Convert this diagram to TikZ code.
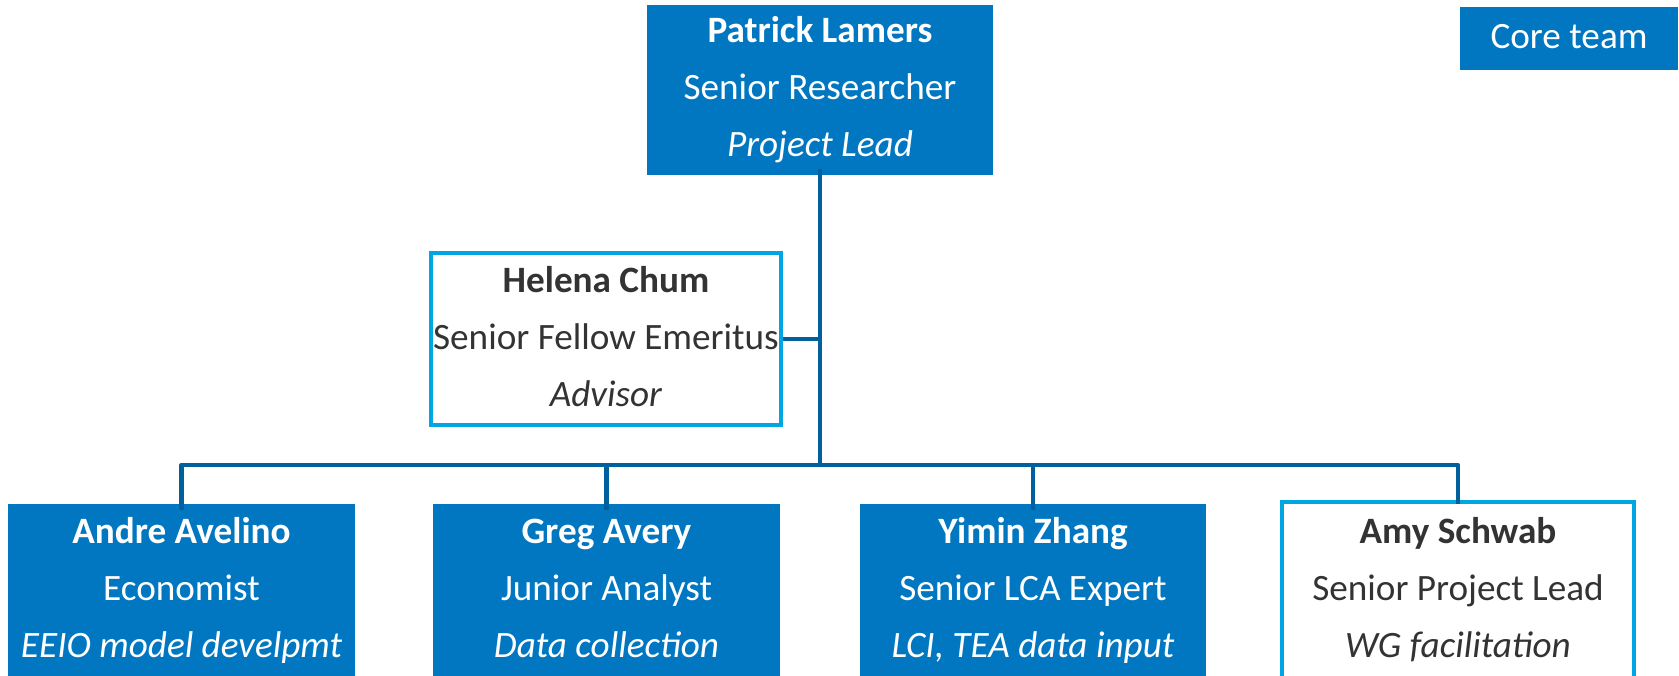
\documentclass[tikz,border=0pt]{standalone}
\usepackage{fontspec}
\setmainfont{Carlito}
\definecolor{coreblue}{RGB}{0,119,192}
\definecolor{lineblue}{RGB}{0,96,158}
\definecolor{lightblue}{RGB}{0,166,226}
\definecolor{darktext}{RGB}{51,51,51}
\newcommand\mystrut{\rule[-8pt]{0pt}{36pt}}
\newcommand\personlines[3]{\textbf{#1}\mystrut\\#2\mystrut\\\textit{#3}\mystrut}
\tikzset{
  corebox/.style={rectangle, fill=coreblue, draw=none, text=white, inner sep=0pt,
    align=center, font=\fontsize{37.2}{57}\selectfont},
  advbox/.style={rectangle, fill=white, draw=lightblue, line width=4pt, text=darktext, inner sep=0pt,
    align=center, font=\fontsize{37.2}{57}\selectfont},
  conn/.style={draw=lineblue, line width=4.5pt, line join=round},
}
\begin{document}
\begin{tikzpicture}[x=1pt, y=-1pt]
\useasboundingbox (0,0) rectangle (1679,676);
\fill[white] (0,0) rectangle (1679,676);
\begin{scope}
\clip (0,0) rectangle (1679,676);
% nodes
\node[corebox, minimum width=346pt, minimum height=170pt] (lamers) at (820,90)
  {\personlines{Patrick Lamers}{Senior Researcher}{Project Lead}};
\node[advbox, minimum width=350pt, minimum height=172pt] (chum) at (606,339)
  {\personlines{Helena Chum}{Senior Fellow Emeritus}{Advisor}};
\node[corebox, minimum width=347pt, minimum height=172pt] (avelino) at (181.5,590)
  {\personlines{Andre Avelino}{Economist}{EEIO model develpmt}};
\node[corebox, minimum width=347pt, minimum height=172pt] (avery) at (606.5,590)
  {\personlines{Greg Avery}{Junior Analyst}{Data collection}};
\node[corebox, minimum width=346pt, minimum height=172pt] (zhang) at (1033,590)
  {\personlines{Yimin Zhang}{Senior LCA Expert}{LCI, TEA data input}};
\node[advbox, minimum width=352pt, minimum height=176pt] (schwab) at (1458,590)
  {\personlines{Amy Schwab}{Senior Project Lead}{WG facilitation}};
\node[corebox, minimum width=218pt, minimum height=63pt] (legend) at (1569,38.5)
  {Core team\mystrut};
% connectors
\coordinate (bar) at (820,465);
\draw[conn] ([yshift=6pt]lamers.south) -- (lamers.south |- bar);
\draw[conn] (chum.east) -- (chum.east -| lamers.south);
\draw[conn] ([yshift=-6pt]avelino.north) -- (avelino.north |- bar) -- (schwab.north |- bar) -- ([yshift=-4pt]schwab.north);
\draw[conn] ([yshift=-6pt]avery.north) -- (avery.north |- bar);
\draw[conn] ([yshift=-6pt]zhang.north) -- (zhang.north |- bar);
\end{scope}
\end{tikzpicture}
\end{document}
